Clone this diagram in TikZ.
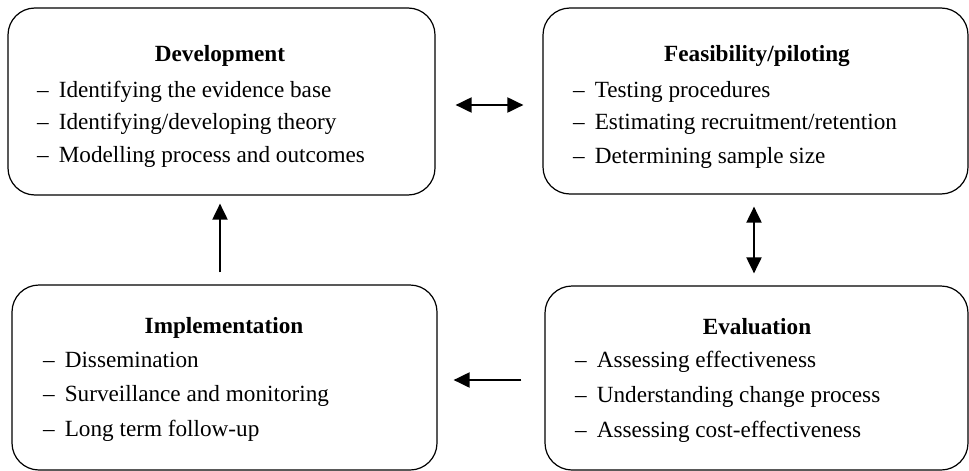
\documentclass[tikz,border=0pt]{standalone}
\usepackage{fontspec}
\setmainfont{Liberation Serif}
\usetikzlibrary{arrows.meta}
\newcommand{\dashitem}{–\hspace{10pt}}
\begin{document}
\begin{tikzpicture}[x=1pt,y=-1pt,
  box/.style={draw, line width=1.2pt, rounded corners=27pt, inner sep=0pt},
  ttl/.style={font=\fontsize{23.2}{28}\selectfont\bfseries, anchor=base, inner sep=0pt},
  itm/.style={font=\fontsize{23.2}{28}\selectfont, anchor=base west, inner sep=0pt},
  conn/.style={line width=2pt, -{Triangle[length=16pt,width=15pt]}},
  dconn/.style={line width=2pt, {Triangle[length=16pt,width=15pt]}-{Triangle[length=16pt,width=15pt]}}]
\useasboundingbox (0,0) rectangle (969,471);

% boxes
\node[box, minimum width=427pt, minimum height=187pt] (dev)  at (221.5,101.5) {};
\node[box, minimum width=425pt, minimum height=186pt] (feas) at (755.5,101) {};
\node[box, minimum width=425pt, minimum height=185pt] (impl) at (224.5,377.5) {};
\node[box, minimum width=423pt, minimum height=184pt] (eval) at (756.5,378) {};

% Development
\node[ttl] (devt) at (220,61) {Development};
\node[itm] (dev1) at (37,97) {\dashitem Identifying the evidence base};
\node[itm] (dev2) at (37,129) {\dashitem Identifying/developing theory};
\node[itm] (dev3) at (37,162) {\dashitem Modelling process and outcomes};

% Feasibility
\node[ttl] (feast) at (757,61) {Feasibility/piloting};
\node[itm] (feas1) at (573,97) {\dashitem Testing procedures};
\node[itm] (feas2) at (573,129) {\dashitem Estimating recruitment/retention};
\node[itm] (feas3) at (573,163) {\dashitem Determining sample size};

% Implementation
\node[ttl] (implt) at (224,333) {Implementation};
\node[itm] (impl1) at (43,367) {\dashitem Dissemination};
\node[itm] (impl2) at (43,401) {\dashitem Surveillance and monitoring};
\node[itm] (impl3) at (43,436) {\dashitem Long term follow-up};

% Evaluation
\node[ttl] (evalt) at (757,334) {Evaluation};
\node[itm] (eval1) at (575,367) {\dashitem Assessing effectiveness};
\node[itm] (eval2) at (575,402) {\dashitem Understanding change process};
\node[itm] (eval3) at (575,437) {\dashitem Assessing cost-effectiveness};

% connectors
\draw[dconn, shorten <=20pt, shorten >=19pt] ([yshift=-3.5pt]dev.east) -- ([yshift=-4pt]feas.west);
\draw[dconn, shorten <=12pt, shorten >=12pt] ([xshift=-1.5pt]feas.south) -- ([xshift=-2.5pt]eval.north);
\draw[conn, shorten <=23pt, shorten >=16pt] ([yshift=-2pt]eval.west) -- ([yshift=-2.5pt]impl.east);
\draw[conn, shorten <=12pt, shorten >=8pt] ([xshift=-4.5pt]impl.north) -- ([xshift=-1.5pt]dev.south);
\end{tikzpicture}
\end{document}
